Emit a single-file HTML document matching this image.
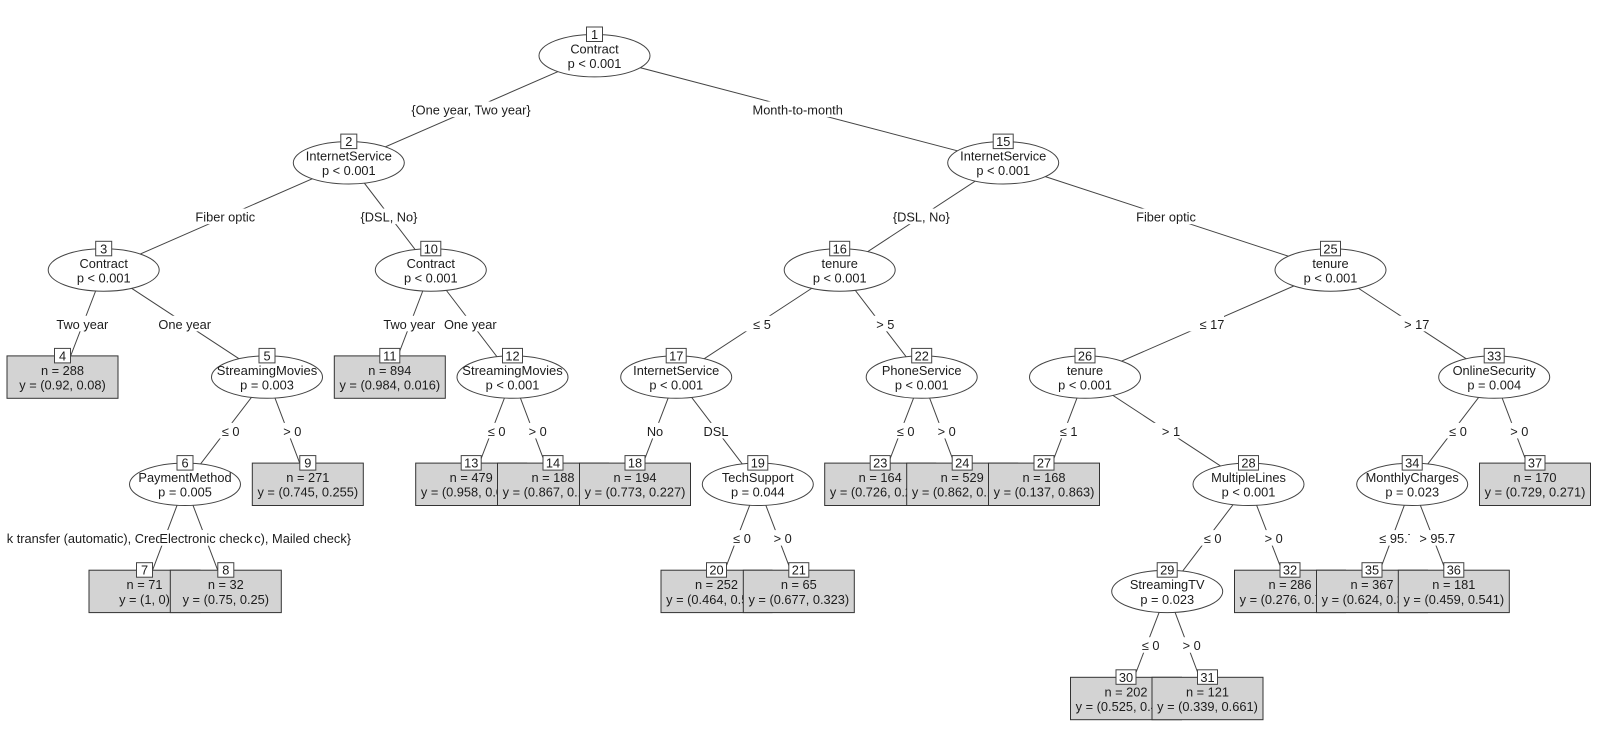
<!DOCTYPE html>
<html><head><meta charset="utf-8"><title>Decision tree</title>
<style>
html,body{margin:0;padding:0;background:#fff;width:1600px;height:738px;overflow:hidden}
svg{display:block;filter:blur(0.3px)}
text{font-family:"Liberation Sans",Arial,sans-serif;font-size:12.8px;fill:#1c1c1c;text-anchor:middle}
.e{stroke:#444;stroke-width:1;fill:none}
.n ellipse{fill:#fff;stroke:#444;stroke-width:1}
.t>rect:first-child{fill:#d3d3d3;stroke:#333;stroke-width:1}
.l{fill:#fff;stroke:#444;stroke-width:1}
.b{fill:#fff}
.w{font-size:13px}
</style></head><body>
<svg width="1600" height="738" viewBox="0 0 1600 738" xmlns="http://www.w3.org/2000/svg">
<!-- edges -->
<path class="e" d="M594.5 55.7L348.8 162.8M348.8 162.8L103.7 270M103.7 270L62.5 377.1M103.7 270L267 377.1M267 377.1L185 484.3M185 484.3L144.5 591.4M185 484.3L225.8 591.4M267 377.1L307.8 484.3M348.8 162.8L430.8 270M430.8 270L389.8 377.1M430.8 270L512.5 377.1M512.5 377.1L471.2 484.3M512.5 377.1L553 484.3M594.5 55.7L1003.2 162.8M1003.2 162.8L839.7 270M839.7 270L676.2 377.1M676.2 377.1L635 484.3M676.2 377.1L757.8 484.3M757.8 484.3L716.5 591.4M757.8 484.3L798.8 591.4M839.7 270L921.7 377.1M921.7 377.1L880.2 484.3M921.7 377.1L962.2 484.3M1003.2 162.8L1330.5 270M1330.5 270L1085 377.1M1085 377.1L1044 484.3M1085 377.1L1248.5 484.3M1248.5 484.3L1167.2 591.4M1167.2 591.4L1126 698.5M1167.2 591.4L1207.5 698.5M1248.5 484.3L1290 591.4M1330.5 270L1494.2 377.1M1494.2 377.1L1412.2 484.3M1412.2 484.3L1372 591.4M1412.2 484.3L1453.8 591.4M1494.2 377.1L1535 484.3"/>
<!-- edge labels -->
<rect class="b" x="411" y="101.5" width="120" height="15.5"/><text x="471" y="114.5">{One year, Two year}</text>
<rect class="b" x="753" y="101.5" width="89" height="15.5"/><text x="797.7" y="114.5">Month-to-month</text>
<rect class="b" x="194.5" y="208.6" width="62" height="15.5"/><text x="225.3" y="221.6">Fiber optic</text>
<rect class="b" x="360" y="208.6" width="58" height="15.5"/><text x="389" y="221.6">{DSL, No}</text>
<rect class="b" x="892" y="208.6" width="58" height="15.5"/><text x="921.3" y="221.6">{DSL, No}</text>
<rect class="b" x="1135" y="208.6" width="62" height="15.5"/><text x="1166" y="221.6">Fiber optic</text>
<rect class="b" x="56" y="315.8" width="53" height="15.5"/><text x="82.3" y="328.8">Two year</text>
<rect class="b" x="158" y="315.8" width="53" height="15.5"/><text x="184.7" y="328.8">One year</text>
<rect class="b" x="383" y="315.8" width="53" height="15.5"/><text x="409.3" y="328.8">Two year</text>
<rect class="b" x="444" y="315.8" width="53" height="15.5"/><text x="470.3" y="328.8">One year</text>
<rect class="b" x="742" y="315.8" width="29" height="15.5"/><text x="762" y="328.8">≤ 5</text>
<rect class="b" x="865" y="315.8" width="29" height="15.5"/><text x="885.3" y="328.8">&gt; 5</text>
<rect class="b" x="1188" y="315.8" width="36" height="15.5"/><text x="1212" y="328.8">≤ 17</text>
<rect class="b" x="1393" y="315.8" width="36" height="15.5"/><text x="1416.7" y="328.8">&gt; 17</text>
<rect class="b" x="211" y="422.9" width="29" height="15.5"/><text x="230.7" y="435.9">≤ 0</text>
<rect class="b" x="272" y="422.9" width="29" height="15.5"/><text x="292.3" y="435.9">&gt; 0</text>
<rect class="b" x="477" y="422.9" width="29" height="15.5"/><text x="496.7" y="435.9">≤ 0</text>
<rect class="b" x="518" y="422.9" width="29" height="15.5"/><text x="537.7" y="435.9">&gt; 0</text>
<rect class="b" x="646" y="422.9" width="18" height="15.5"/><text x="655" y="435.9">No</text>
<rect class="b" x="702" y="422.9" width="28" height="15.5"/><text x="716" y="435.9">DSL</text>
<rect class="b" x="886" y="422.9" width="29" height="15.5"/><text x="905.7" y="435.9">≤ 0</text>
<rect class="b" x="927" y="422.9" width="29" height="15.5"/><text x="946.7" y="435.9">&gt; 0</text>
<rect class="b" x="1049" y="422.9" width="29" height="15.5"/><text x="1068.7" y="435.9">≤ 1</text>
<rect class="b" x="1151" y="422.9" width="29" height="15.5"/><text x="1171" y="435.9">&gt; 1</text>
<rect class="b" x="1438" y="422.9" width="29" height="15.5"/><text x="1458" y="435.9">≤ 0</text>
<rect class="b" x="1499" y="422.9" width="29" height="15.5"/><text x="1519.3" y="435.9">&gt; 0</text>
<rect class="b" x="0" y="530.1" width="352" height="15.5"/><text x="351" y="543.1" style="text-anchor:end">{Bank transfer (automatic), Credit card (automatic), Mailed check}</text>
<rect class="b" x="159.5" y="530.1" width="94.5" height="15.5"/><text x="206" y="543.1">Electronic check</text>
<rect class="b" x="0" y="528" width="6.4" height="20"/>
<rect class="b" x="722" y="530.1" width="29" height="15.5"/><text x="742" y="543.1">≤ 0</text>
<rect class="b" x="763" y="530.1" width="29" height="15.5"/><text x="782.7" y="543.1">&gt; 0</text>
<rect class="b" x="1193" y="530.1" width="29" height="15.5"/><text x="1212.7" y="543.1">≤ 0</text>
<rect class="b" x="1254" y="530.1" width="29" height="15.5"/><text x="1273.7" y="543.1">&gt; 0</text>
<rect class="b" x="1368" y="530.1" width="47" height="15.5"/><text x="1397" y="543.1">≤ 95.7</text>
<rect class="b" x="1409.8" y="530.1" width="46" height="15.5"/><text x="1437.3" y="543.1">&gt; 95.7</text>
<rect class="b" x="1131" y="637.2" width="29" height="15.5"/><text x="1150.7" y="650.2">≤ 0</text>
<rect class="b" x="1172" y="637.2" width="29" height="15.5"/><text x="1191.7" y="650.2">&gt; 0</text>
<!-- nodes -->
<g class="n" transform="translate(594.5,34.5)"><ellipse cy="21.2" rx="55.5" ry="21.2"/><rect class="l" x="-8" y="-7.5" width="16" height="14.5"/><text y="4.5">1</text><text y="19">Contract</text><text y="33.6">p &lt; 0.001</text></g>
<g class="n" transform="translate(348.8,141.6)"><ellipse cy="21.2" rx="55.5" ry="21.2"/><rect class="l" x="-8" y="-7.5" width="16" height="14.5"/><text y="4.5">2</text><text y="19">InternetService</text><text y="33.6">p &lt; 0.001</text></g>
<g class="n" transform="translate(103.7,248.8)"><ellipse cy="21.2" rx="55.5" ry="21.2"/><rect class="l" x="-8" y="-7.5" width="16" height="14.5"/><text y="4.5">3</text><text y="19">Contract</text><text y="33.6">p &lt; 0.001</text></g>
<g class="t" transform="translate(62.5,355.9)"><rect x="-55.5" width="111" height="42.4"/><rect class="l" x="-8" y="-7.5" width="16" height="14.5"/><text y="4.5">4</text><text y="19">n = 288</text><text y="33.6">y = (0.92, 0.08)</text></g>
<g class="n" transform="translate(267,355.9)"><ellipse cy="21.2" rx="55.5" ry="21.2"/><rect class="l" x="-8" y="-7.5" width="16" height="14.5"/><text y="4.5">5</text><text class="w" y="19">StreamingMovies</text><text y="33.6">p = 0.003</text></g>
<g class="n" transform="translate(185,463.1)"><ellipse cy="21.2" rx="55.5" ry="21.2"/><rect class="l" x="-8" y="-7.5" width="16" height="14.5"/><text y="4.5">6</text><text y="19">PaymentMethod</text><text y="33.6">p = 0.005</text></g>
<g class="t" transform="translate(144.5,570.2)"><rect x="-55.5" width="111" height="42.4"/><rect class="l" x="-8" y="-7.5" width="16" height="14.5"/><text y="4.5">7</text><text y="19">n = 71</text><text y="33.6">y = (1, 0)</text></g>
<g class="t" transform="translate(225.8,570.2)"><rect x="-55.5" width="111" height="42.4"/><rect class="l" x="-8" y="-7.5" width="16" height="14.5"/><text y="4.5">8</text><text y="19">n = 32</text><text y="33.6">y = (0.75, 0.25)</text></g>
<g class="t" transform="translate(307.8,463.1)"><rect x="-55.5" width="111" height="42.4"/><rect class="l" x="-8" y="-7.5" width="16" height="14.5"/><text y="4.5">9</text><text y="19">n = 271</text><text y="33.6">y = (0.745, 0.255)</text></g>
<g class="n" transform="translate(430.8,248.8)"><ellipse cy="21.2" rx="55.5" ry="21.2"/><rect class="l" x="-10" y="-7.5" width="20" height="14.5"/><text y="4.5">10</text><text y="19">Contract</text><text y="33.6">p &lt; 0.001</text></g>
<g class="t" transform="translate(389.8,355.9)"><rect x="-55.5" width="111" height="42.4"/><rect class="l" x="-10" y="-7.5" width="20" height="14.5"/><text y="4.5">11</text><text y="19">n = 894</text><text y="33.6">y = (0.984, 0.016)</text></g>
<g class="n" transform="translate(512.5,355.9)"><ellipse cy="21.2" rx="55.5" ry="21.2"/><rect class="l" x="-10" y="-7.5" width="20" height="14.5"/><text y="4.5">12</text><text class="w" y="19">StreamingMovies</text><text y="33.6">p &lt; 0.001</text></g>
<g class="t" transform="translate(471.2,463.1)"><rect x="-55.5" width="111" height="42.4"/><rect class="l" x="-10" y="-7.5" width="20" height="14.5"/><text y="4.5">13</text><text y="19">n = 479</text><text y="33.6">y = (0.958, 0.042)</text></g>
<g class="t" transform="translate(553,463.1)"><rect x="-55.5" width="111" height="42.4"/><rect class="l" x="-10" y="-7.5" width="20" height="14.5"/><text y="4.5">14</text><text y="19">n = 188</text><text y="33.6">y = (0.867, 0.133)</text></g>
<g class="n" transform="translate(1003.2,141.6)"><ellipse cy="21.2" rx="55.5" ry="21.2"/><rect class="l" x="-10" y="-7.5" width="20" height="14.5"/><text y="4.5">15</text><text y="19">InternetService</text><text y="33.6">p &lt; 0.001</text></g>
<g class="n" transform="translate(839.7,248.8)"><ellipse cy="21.2" rx="55.5" ry="21.2"/><rect class="l" x="-10" y="-7.5" width="20" height="14.5"/><text y="4.5">16</text><text y="19">tenure</text><text y="33.6">p &lt; 0.001</text></g>
<g class="n" transform="translate(676.2,355.9)"><ellipse cy="21.2" rx="55.5" ry="21.2"/><rect class="l" x="-10" y="-7.5" width="20" height="14.5"/><text y="4.5">17</text><text y="19">InternetService</text><text y="33.6">p &lt; 0.001</text></g>
<g class="t" transform="translate(635,463.1)"><rect x="-55.5" width="111" height="42.4"/><rect class="l" x="-10" y="-7.5" width="20" height="14.5"/><text y="4.5">18</text><text y="19">n = 194</text><text y="33.6">y = (0.773, 0.227)</text></g>
<g class="n" transform="translate(757.8,463.1)"><ellipse cy="21.2" rx="55.5" ry="21.2"/><rect class="l" x="-10" y="-7.5" width="20" height="14.5"/><text y="4.5">19</text><text y="19">TechSupport</text><text y="33.6">p = 0.044</text></g>
<g class="t" transform="translate(716.5,570.2)"><rect x="-55.5" width="111" height="42.4"/><rect class="l" x="-10" y="-7.5" width="20" height="14.5"/><text y="4.5">20</text><text y="19">n = 252</text><text y="33.6">y = (0.464, 0.536)</text></g>
<g class="t" transform="translate(798.8,570.2)"><rect x="-55.5" width="111" height="42.4"/><rect class="l" x="-10" y="-7.5" width="20" height="14.5"/><text y="4.5">21</text><text y="19">n = 65</text><text y="33.6">y = (0.677, 0.323)</text></g>
<g class="n" transform="translate(921.7,355.9)"><ellipse cy="21.2" rx="55.5" ry="21.2"/><rect class="l" x="-10" y="-7.5" width="20" height="14.5"/><text y="4.5">22</text><text y="19">PhoneService</text><text y="33.6">p &lt; 0.001</text></g>
<g class="t" transform="translate(880.2,463.1)"><rect x="-55.5" width="111" height="42.4"/><rect class="l" x="-10" y="-7.5" width="20" height="14.5"/><text y="4.5">23</text><text y="19">n = 164</text><text y="33.6">y = (0.726, 0.274)</text></g>
<g class="t" transform="translate(962.2,463.1)"><rect x="-55.5" width="111" height="42.4"/><rect class="l" x="-10" y="-7.5" width="20" height="14.5"/><text y="4.5">24</text><text y="19">n = 529</text><text y="33.6">y = (0.862, 0.138)</text></g>
<g class="n" transform="translate(1330.5,248.8)"><ellipse cy="21.2" rx="55.5" ry="21.2"/><rect class="l" x="-10" y="-7.5" width="20" height="14.5"/><text y="4.5">25</text><text y="19">tenure</text><text y="33.6">p &lt; 0.001</text></g>
<g class="n" transform="translate(1085,355.9)"><ellipse cy="21.2" rx="55.5" ry="21.2"/><rect class="l" x="-10" y="-7.5" width="20" height="14.5"/><text y="4.5">26</text><text y="19">tenure</text><text y="33.6">p &lt; 0.001</text></g>
<g class="t" transform="translate(1044,463.1)"><rect x="-55.5" width="111" height="42.4"/><rect class="l" x="-10" y="-7.5" width="20" height="14.5"/><text y="4.5">27</text><text y="19">n = 168</text><text y="33.6">y = (0.137, 0.863)</text></g>
<g class="n" transform="translate(1248.5,463.1)"><ellipse cy="21.2" rx="55.5" ry="21.2"/><rect class="l" x="-10" y="-7.5" width="20" height="14.5"/><text y="4.5">28</text><text y="19">MultipleLines</text><text y="33.6">p &lt; 0.001</text></g>
<g class="n" transform="translate(1167.2,570.2)"><ellipse cy="21.2" rx="55.5" ry="21.2"/><rect class="l" x="-10" y="-7.5" width="20" height="14.5"/><text y="4.5">29</text><text y="19">StreamingTV</text><text y="33.6">p = 0.023</text></g>
<g class="t" transform="translate(1126,677.3)"><rect x="-55.5" width="111" height="42.4"/><rect class="l" x="-10" y="-7.5" width="20" height="14.5"/><text y="4.5">30</text><text y="19">n = 202</text><text y="33.6">y = (0.525, 0.475)</text></g>
<g class="t" transform="translate(1207.5,677.3)"><rect x="-55.5" width="111" height="42.4"/><rect class="l" x="-10" y="-7.5" width="20" height="14.5"/><text y="4.5">31</text><text y="19">n = 121</text><text y="33.6">y = (0.339, 0.661)</text></g>
<g class="t" transform="translate(1290,570.2)"><rect x="-55.5" width="111" height="42.4"/><rect class="l" x="-10" y="-7.5" width="20" height="14.5"/><text y="4.5">32</text><text y="19">n = 286</text><text y="33.6">y = (0.276, 0.724)</text></g>
<g class="n" transform="translate(1494.2,355.9)"><ellipse cy="21.2" rx="55.5" ry="21.2"/><rect class="l" x="-10" y="-7.5" width="20" height="14.5"/><text y="4.5">33</text><text y="19">OnlineSecurity</text><text y="33.6">p = 0.004</text></g>
<g class="n" transform="translate(1412.2,463.1)"><ellipse cy="21.2" rx="55.5" ry="21.2"/><rect class="l" x="-10" y="-7.5" width="20" height="14.5"/><text y="4.5">34</text><text y="19">MonthlyCharges</text><text y="33.6">p = 0.023</text></g>
<g class="t" transform="translate(1372,570.2)"><rect x="-55.5" width="111" height="42.4"/><rect class="l" x="-10" y="-7.5" width="20" height="14.5"/><text y="4.5">35</text><text y="19">n = 367</text><text y="33.6">y = (0.624, 0.376)</text></g>
<g class="t" transform="translate(1453.8,570.2)"><rect x="-55.5" width="111" height="42.4"/><rect class="l" x="-10" y="-7.5" width="20" height="14.5"/><text y="4.5">36</text><text y="19">n = 181</text><text y="33.6">y = (0.459, 0.541)</text></g>
<g class="t" transform="translate(1535,463.1)"><rect x="-55.5" width="111" height="42.4"/><rect class="l" x="-10" y="-7.5" width="20" height="14.5"/><text y="4.5">37</text><text y="19">n = 170</text><text y="33.6">y = (0.729, 0.271)</text></g>
</svg>
</body></html>
